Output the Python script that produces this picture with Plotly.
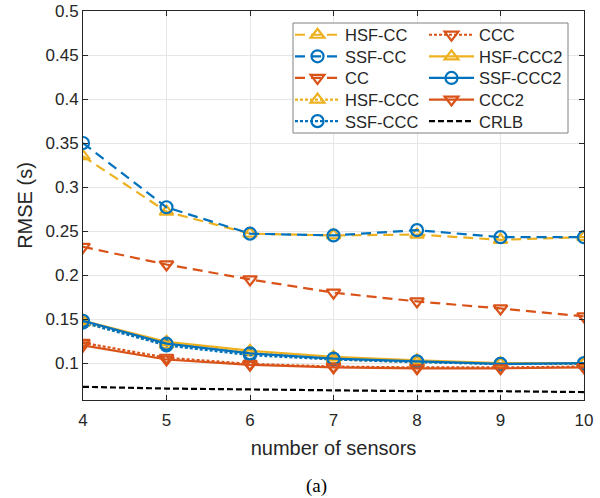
import plotly.graph_objects as go

sensors = [4, 5, 6, 7, 8, 9, 10]
hsf_cc = [0.335, 0.272, 0.247, 0.245, 0.246, 0.240, 0.243]
ssf_cc = [0.350, 0.277, 0.247, 0.245, 0.251, 0.243, 0.243]
cc = [0.232, 0.212, 0.195, 0.180, 0.170, 0.162, 0.153]
hsf_ccc = [0.146, 0.121, 0.112, 0.104, 0.101, 0.099, 0.099]
ssf_ccc = [0.146, 0.120, 0.109, 0.104, 0.101, 0.099, 0.099]
ccc = [0.123, 0.106, 0.099, 0.096, 0.095, 0.095, 0.096]
hsf_ccc2 = [0.148, 0.124, 0.114, 0.107, 0.103, 0.100, 0.100]
ssf_ccc2 = [0.148, 0.122, 0.111, 0.105, 0.102, 0.099, 0.100]
ccc2 = [0.120, 0.104, 0.098, 0.095, 0.094, 0.094, 0.095]
crlb = [0.073, 0.071, 0.070, 0.069, 0.068, 0.068, 0.067]

Y = "#EDB120"
B = "#0072BD"
R = "#D95319"
K = "#000000"

series = [
    ("HSF-CC", hsf_cc, Y, "10px,6px", "triangle-up-open"),
    ("SSF-CC", ssf_cc, B, "10px,6px", "circle-open"),
    ("CC", cc, R, "10px,6px", "triangle-down-open"),
    ("HSF-CCC", hsf_ccc, Y, "3px,2px", "triangle-up-open"),
    ("SSF-CCC", ssf_ccc, B, "3px,2px", "circle-open"),
    ("CCC", ccc, R, "3px,2px", "triangle-down-open"),
    ("HSF-CCC2", hsf_ccc2, Y, "solid", "triangle-up-open"),
    ("SSF-CCC2", ssf_ccc2, B, "solid", "circle-open"),
    ("CCC2", ccc2, R, "solid", "triangle-down-open"),
    ("CRLB", crlb, K, "6px,3px", None),
]

x0, x1, ytop, ybot = 83, 584, 11, 400
pw, ph = x1 - x0, ybot - ytop

def px(x):
    return (x - x0) / pw

def py(y):
    return (ybot - y) / ph

fig = go.Figure()
legends = {}
for i, (name, vals, col, dash, sym) in enumerate(series):
    lname = "legend" if i == 0 else f"legend{i + 1}"
    mode = "lines+markers" if sym else "lines"
    fig.add_trace(go.Scatter(
        x=sensors, y=vals, name=name, mode=mode, legend=lname,
        line=dict(color=col, dash=dash, width=2.2),
        marker=dict(symbol=sym, size=12, color=col, line=dict(width=2.2, color=col)) if sym else None,
    ))
    col_i, row_i = divmod(i, 5)
    legends[lname] = dict(
        x=px(290 if col_i == 0 else 424), y=py(35 + 21.6 * row_i),
        xanchor="left", yanchor="middle",
        font=dict(family="Liberation Sans, Arial, sans-serif", size=16.5, color="#262626"),
        bgcolor="rgba(255,255,255,0)", borderwidth=0, itemwidth=45,
    )

font = dict(family="Liberation Sans, Arial, sans-serif", size=17, color="#262626")

fig.update_layout(
    width=600, height=498,
    margin=dict(l=x0, r=600 - x1, t=ytop, b=498 - ybot, autoexpand=False),
    paper_bgcolor="white", plot_bgcolor="white",
    font=font,
    showlegend=True,
    xaxis=dict(range=[4, 10], tickvals=sensors, ticks="inside", ticklen=5,
               tickcolor="#262626", showline=True, linecolor="#262626", mirror="ticks",
               showgrid=True, gridcolor="#E6E6E6", zeroline=False, automargin=False,
               ticklabelstandoff=5,
               title=dict(text="number of sensors", standoff=11),
               tickfont=font),
    yaxis=dict(range=[0.058, 0.5], tickvals=[0.1, 0.15, 0.2, 0.25, 0.3, 0.35, 0.4, 0.45, 0.5],
               ticktext=["0.1", "0.15", "0.2", "0.25", "0.3", "0.35", "0.4", "0.45", "0.5"],
               ticks="inside", ticklen=5, tickcolor="#262626", showline=True,
               linecolor="#262626", mirror="ticks", showgrid=True, gridcolor="#E6E6E6",
               zeroline=False, automargin=False, title=dict(text="RMSE (s)", standoff=7), tickfont=font),
    shapes=[dict(type="rect", xref="paper", yref="paper",
                 x0=px(293), x1=px(568), y0=py(133), y1=py(23),
                 line=dict(color="#808080", width=1), fillcolor="white", layer="above")],
    annotations=[dict(text="(a)", xref="paper", yref="paper", x=px(316), y=py(486),
                      showarrow=False, xanchor="center", yanchor="middle",
                      font=dict(family="Liberation Serif, Times New Roman, serif", size=19, color="black"))],
)
fig.update_layout(**legends)

fig.write_html("out.html", config={"displayModeBar": False},
               post_script="document.body.style.margin='0px';document.body.style.padding='0px';")
